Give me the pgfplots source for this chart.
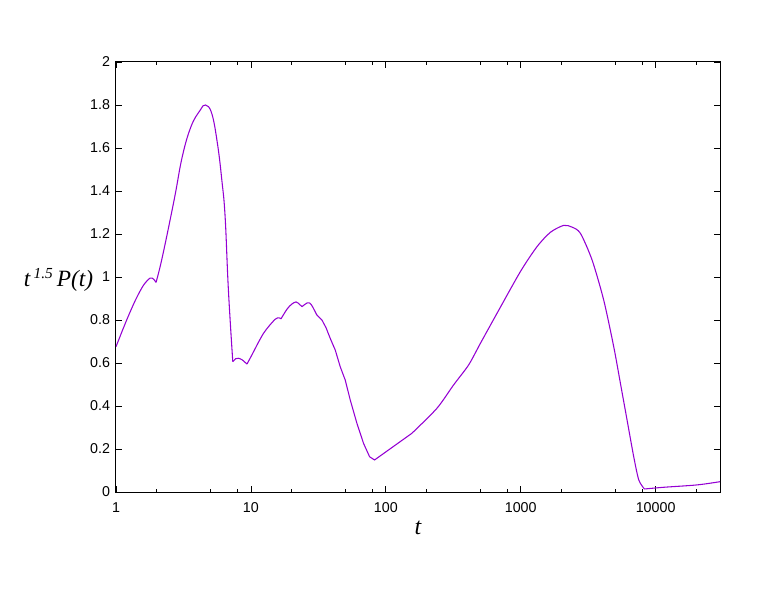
\documentclass[border=0pt]{standalone}
\usepackage{pgfplots}
\pgfplotsset{compat=1.18}
\usepackage{fontspec}
\setmainfont{Liberation Sans}
\newfontfamily\serif{Liberation Serif}
\definecolor{gpviolet}{HTML}{9400D3}
\begin{document}
\begin{tikzpicture}
\useasboundingbox (-87pt,-75pt) rectangle (487.5pt,369pt);
\begin{axis}[
  at={(0,0)}, anchor=south west,
  scale only axis, width=453pt, height=322.5pt,
  xmode=log, xmin=1, xmax=30000, ymin=0, ymax=2,
  xtick={1,10,100,1000,10000}, xticklabels={1,10,100,1000,10000},
  minor xtick={2,5,8,20,50,80,200,500,800,2000,5000,8000,20000},
  ytick={0,0.2,...,2.01},
  tick align=inside, major tick length=4.5pt, minor tick length=2.5pt,
  tick style={black, line width=0.6pt},
  axis line style={line width=0.75pt},
  /pgf/number format/assume math mode=true,
  ticklabel style={font=\fontsize{10.7}{12}\selectfont},
  xticklabel style={yshift=-4.5pt},
  yticklabel style={xshift=-1pt},
  xlabel={\serif\itshape t},
  every axis x label/.style={at={(axis description cs:0.5,0)}, anchor=base, yshift=-31.5pt, font=\fontsize{18}{20}\selectfont},
  ylabel={\serif\itshape t\hspace{2.5pt}\raisebox{6.5pt}{\fontsize{11.5}{13}\selectfont 1.5}\hspace{3pt}P(t)},
  every axis y label/.style={at={(axis description cs:0,0.5)}, anchor=base east, inner sep=0pt, xshift=-17pt, yshift=-7.5pt, font=\fontsize{17.5}{20}\selectfont},
  curve/.style={gpviolet, line width=0.8pt, no marks},
]
\addplot[curve, smooth, tension=0.5] coordinates {
(1,0.676)(1.2,0.80)(1.4,0.895)(1.6,0.962)(1.79,0.995)(1.9,0.99)(1.98,0.975)};
\addplot[curve, smooth, tension=0.7] coordinates {
(1.98,0.975)(2.2,1.09)(2.7,1.36)(3.1,1.56)(3.6,1.70)(4.2,1.775)(4.6,1.80)(5.13,1.76)
(5.65,1.62)(6.09,1.45)(6.44,1.28)(6.81,0.94)(7.34,0.606)};
\addplot[curve, smooth, tension=0.5] coordinates {
(7.34,0.606)(7.7,0.62)(8.08,0.622)(8.6,0.615)(9.35,0.595)};
\addplot[curve, smooth, tension=0.5] coordinates {
(9.35,0.595)(10,0.629)(12.4,0.738)(15.1,0.803)(16.2,0.81)(16.7,0.805)};
\addplot[curve, smooth, tension=0.5] coordinates {
(16.7,0.805)(18.5,0.85)(20,0.873)(21.6,0.884)(23,0.872)(23.9,0.862)};
\addplot[curve, smooth, tension=0.5] coordinates {
(23.9,0.862)(26.3,0.88)(28,0.872)(30.8,0.823)};
\addplot[curve] coordinates {
(30.8,0.823)(33.6,0.80)(36,0.765)(38.7,0.715)(42.2,0.66)(45.9,0.583)(50,0.521)(54.5,0.428)
(61.1,0.319)(68.4,0.226)(75.8,0.164)(82.5,0.149)(156,0.273)};
\addplot[curve, smooth, tension=0.45] coordinates {
(156,0.273)(239,0.389)(318,0.498)(411,0.591)(502,0.691)(667,0.831)(994,1.025)(1320,1.141)
(1660,1.208)(2080,1.24)(2400,1.232)(2770,1.203)(3380,1.079)(4120,0.893)(4890,0.676)
(5480,0.506)(6140,0.335)(6880,0.164)(7500,0.056)(8260,0.014)};
\addplot[curve, smooth, tension=0.5] coordinates {
(8260,0.014)(11500,0.022)(20300,0.033)(30000,0.048)};
\end{axis}
\end{tikzpicture}
\end{document}
